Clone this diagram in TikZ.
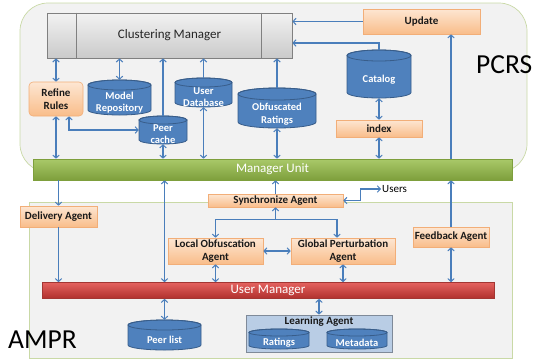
\documentclass[tikz,border=0pt]{standalone}
\usepackage{fontspec}
\setmainfont{Carlito}
\usetikzlibrary{arrows.meta}

\definecolor{panelfill}{HTML}{F2F2F2}
\definecolor{paneledge}{HTML}{C9D9A6}
\definecolor{linkc}{HTML}{4A7EBB}
\definecolor{drumfill}{HTML}{4F81BD}
\definecolor{drumedge}{HTML}{385D8A}
\definecolor{peachtop}{HTML}{FDE6D2}
\definecolor{peachbot}{HTML}{F9BD8A}
\definecolor{peachedge}{HTML}{F2AE78}
\definecolor{greentop}{HTML}{A9C969}
\definecolor{greenbot}{HTML}{7E9F3C}
\definecolor{redtop}{HTML}{E4625F}
\definecolor{redbot}{HTML}{B0302D}
\definecolor{rededge}{HTML}{A33633}
\definecolor{greytop}{HTML}{F2F2F2}
\definecolor{greybot}{HTML}{CACACA}
\definecolor{learnfill}{HTML}{B9CDE5}
\definecolor{learnedge}{HTML}{7F8A99}

% cylinder drawn between (x1,y1) and (x2,y2) with a named node covering it
% #1 name, #2 x1, #3 y1, #4 x2, #5 y2, #6 cap radius, #7 label
\newcommand\drumnode[7]{%
  \pgfmathsetmacro\drcx{(#2+#4)/2}%
  \pgfmathsetmacro\drrx{(#4-#2)/2}%
  \pgfmathsetmacro\drtop{#3+#6}%
  \pgfmathsetmacro\drbot{#5-#6}%
  \pgfmathsetmacro\drcy{(#3+#5)/2}%
  \pgfmathsetmacro\drty{(#3+2*#6+#5)/2}%
  \pgfmathsetmacro\drw{#4-#2}%
  \pgfmathsetmacro\drh{#5-#3}%
  \path[fill=drumfill, draw=drumedge, line width=0.8pt]
    (#2,\drtop) -- (#2,\drbot)
    arc[start angle=180, end angle=0, x radius=\drrx, y radius=#6]
    -- (#4,\drtop)
    arc[start angle=0, end angle=-180, x radius=\drrx, y radius=#6] -- cycle;
  \draw[drumedge, line width=0.8pt] (\drcx,\drtop) ellipse[x radius=\drrx, y radius=#6];
  \node[minimum width=\drw pt, minimum height=\drh pt, inner sep=0pt] (#1) at (\drcx,\drcy) {};
  \node[drumtext] at (\drcx,\drty) {#7};
}

\begin{document}
\begin{tikzpicture}[x=1pt, y=-1pt,
  tip/.tip={Straight Barb[length=3pt, width=6.5pt, line width=1pt]},
  one/.style={draw=linkc, line width=1.1pt, -tip},
  two/.style={draw=linkc, line width=1.1pt, tip-tip},
  obox/.style={draw=peachedge, line width=0.6pt, top color=peachtop, bottom color=peachbot,
    font=\bfseries\fontsize{11}{12.5}\selectfont, text=black!90, align=center, inner sep=0pt},
  drumtext/.style={font=\bfseries\fontsize{10.5}{12.5}\selectfont, text=white, align=center, inner sep=0pt},
  bartext/.style={font=\fontsize{13}{15}\selectfont, text=white, inner sep=0pt},
  bigtext/.style={font=\fontsize{27.5}{30}\selectfont, inner sep=0pt, anchor=base west},
]
\useasboundingbox (0,0) rectangle (535,360);

% containers
\path[fill=panelfill, draw=paneledge, line width=0.7pt, rounded corners=28pt]
  (20,3) rectangle (527,172);
\path[fill=panelfill, draw=paneledge, line width=0.7pt] (29,202) rectangle (512,358);

\node[bigtext] (pcrs) at (476,73) {PCRS};
\node[bigtext] (ampr) at (8,348) {AMPR};

% PCRS part
\node[draw=black!50, line width=0.7pt, top color=greytop, bottom color=greybot,
  minimum width=245pt, minimum height=45pt, inner sep=0pt,
  font=\fontsize{13}{15}\selectfont, text=black!85] (cm) at (169.5,35.5) {Clustering Manager};
\draw[black!50, line width=0.7pt] ([xshift=30pt]cm.north west) -- ([xshift=30pt]cm.south west);
\draw[black!50, line width=0.7pt] ([xshift=-31pt]cm.north east) -- ([xshift=-31pt]cm.south east);

\node[obox, minimum width=117pt, minimum height=25pt] (upd) at (421.5,21.5) {Update};
\node[obox, rounded corners=4pt, minimum width=54pt, minimum height=34pt] (rr) at (56,99) {Refine\\Rules};
\node[obox, minimum width=86pt, minimum height=17pt] (idx) at (379,128.5) {index};

\drumnode{mr}{88}{80}{151}{115}{5}{Model\\Repository}
\drumnode{ud}{175}{78}{232}{107}{4.5}{User\\Database}
\drumnode{pc}{139}{116}{187}{144}{4}{Peer\\cache}
\drumnode{obr}{238}{88}{316}{128}{6}{Obfuscated\\Ratings}
\drumnode{cat}{347}{50}{411}{98}{5.5}{Catalog}

\node[draw=greenbot, line width=0.6pt, top color=greentop, bottom color=greenbot,
  minimum width=479pt, minimum height=21pt, bartext] (mu) at (272.5,169.5) {Manager Unit};

% AMPR part
\node[obox, minimum width=77pt, minimum height=21pt] (da) at (58.5,216.5) {Delivery Agent};
\node[obox, minimum width=135pt, minimum height=13pt] (sa) at (275.5,200.5) {Synchronize Agent};
\node[font=\fontsize{11}{12}\selectfont, anchor=west, inner sep=1pt] (users) at (381,189) {Users};
\node[obox, minimum width=95pt, minimum height=26pt] (lo) at (215.5,251) {Local Obfuscation\\Agent};
\node[obox, minimum width=104pt, minimum height=26pt] (gp) at (343,251) {Global Perturbation\\Agent};
\node[obox, minimum width=76pt, minimum height=20pt] (fb) at (451,237) {Feedback Agent};

\node[draw=rededge, line width=0.6pt, top color=redtop, bottom color=redbot,
  minimum width=452pt, minimum height=16pt, bartext] (um) at (268,290.5) {User Manager};

\drumnode{pl}{128}{320}{201}{350}{5}{Peer list}
\node[draw=learnedge, fill=learnfill, line width=0.7pt, minimum width=146pt, minimum height=37pt,
  inner sep=0pt] (la) at (319,333.5) {};
\node[anchor=north, inner sep=2pt, font=\bfseries\fontsize{11}{12}\selectfont, text=black!90]
  (lat) at (la.north) {Learning Agent};
\drumnode{rt}{249}{329}{309}{349}{3.5}{Ratings}
\drumnode{md}{327}{329}{387}{349}{3.5}{Metadata}

% PCRS connectors
\draw[two] (rr.north) -- (rr.north |- cm.south);
\draw[two] (rr.south) -- (rr.south |- mu.north);
\draw[two] (mr.north) -- (mr.north |- cm.south);
\draw[one] (pc.north) -- (pc.north |- cm.south);
\draw[two] (pc.south) -- (pc.south |- mu.north);
\draw[two] (pc.west) -| ([xshift=13pt]rr.south);
\draw[one] (ud.north) -- (ud.north |- cm.south);
\draw[two] (ud.south) -- (ud.south |- mu.north);
\draw[one] (obr.north) -- (obr.north |- cm.south);
\draw[two] (obr.south) -- (obr.south |- mu.north);
\draw[one] (upd.west) -- (upd.west -| cm.east);
\draw[one] (cat.north) |- ([yshift=-7.5pt]cm.east);
\draw[two] (cat.south) -- (idx.north);
\draw[two] (idx.south) -- (idx.south |- mu.north);
\draw[one] (mu.north -| fb.north) -- (upd.south -| fb.north);

% AMPR connectors
\draw[one] (mu.south -| da.north) -- (da.north);
\draw[one] (da.south) -- (da.south |- um.north);
\draw[two] (mu.south -| pl.north) -- (um.north -| pl.north);
\draw[one] (sa.north) -- (sa.north |- mu.south);
\draw[two] (sa.east) -- ++(17,0) |- (users.west);
\coordinate (j) at ([yshift=-12pt]sa.south);
\draw[one] (j) -- (sa.south);
\draw[one] (j) -| (lo.north);
\draw[one] (j) -| ([xshift=-6pt]gp.north);
\draw[two] (lo.east) -- (gp.west);
\draw[two] (lo.south) -- (lo.south |- um.north);
\draw[two] (gp.south) -- (gp.south |- um.north);
\draw[one] (fb.north) -- (fb.north |- mu.south);
\draw[two] (fb.south) -- (fb.south |- um.north);
\draw[two] (pl.north |- um.south) -- (pl.north);
\draw[two] (la.north |- um.south) -- (la.north);
\end{tikzpicture}
\end{document}
